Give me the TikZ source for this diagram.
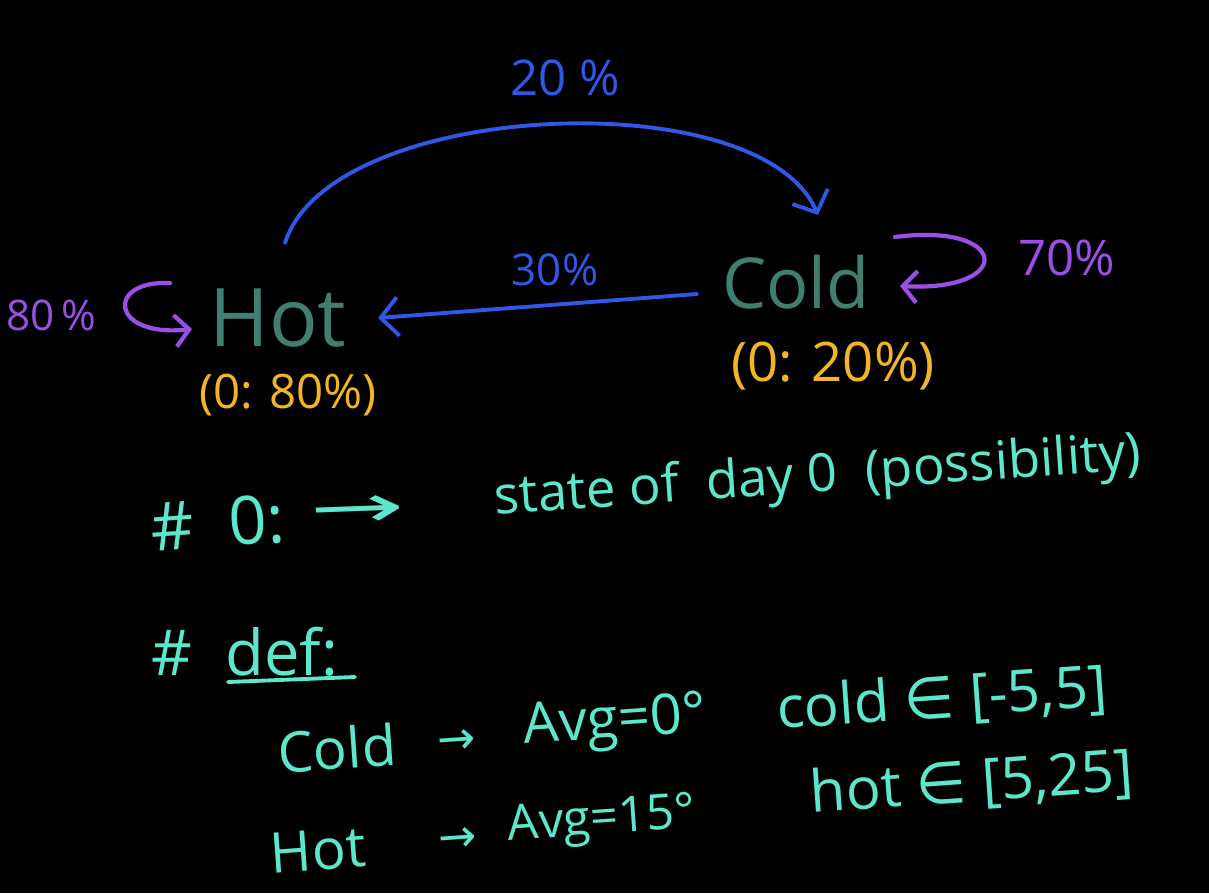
\documentclass[tikz,border=0pt]{standalone}
\usepackage{fontspec}
\setmainfont{Open Sans}
\newfontfamily\symfont{DejaVu Sans}
\usetikzlibrary{arrows.meta}
\definecolor{bgc}{HTML}{000000}
\definecolor{statec}{HTML}{3F7F70}
\definecolor{probc}{HTML}{F2B523}
\definecolor{loopc}{HTML}{9A4FE6}
\definecolor{edgec}{HTML}{2F57E8}
\definecolor{notec}{HTML}{5CE6CC}
\tikzset{
  statetxt/.style={text=statec, font=\fontsize{46}{50}\selectfont, inner sep=0pt},
  probtxt/.style={text=probc, font=\fontsize{27}{30}\selectfont, inner sep=0pt},
  looptxt/.style={text=loopc, font=\fontsize{26}{30}\selectfont, inner sep=0pt},
  edgetxt/.style={text=edgec, font=\fontsize{26}{30}\selectfont, inner sep=0pt},
  notetxt/.style={text=notec, font=\fontsize{32}{36}\selectfont, inner sep=0pt},
  edgeline/.style={draw=edgec, line width=2.2pt, line cap=round, -{Straight Barb[length=10pt,width=22pt,line width=2.2pt]}},
  loopline/.style={draw=loopc, line width=2.4pt, line cap=round, -{Straight Barb[length=8pt,width=18pt,line width=2.4pt]}},
}
\begin{document}
\begin{tikzpicture}[x=0.02cm,y=-0.02cm]
\fill[bgc] (0,0) rectangle (1209,893);
\useasboundingbox (0,0) rectangle (1209,893);

% states
\node[statetxt] (hot) at (278,318) {Hot};
\node[statetxt, font=\fontsize{40}{44}\selectfont] (cold) at (796,282) {Cold};
\node[probtxt] (hotp) at (288,395) {(0: 80\%)};
\node[probtxt, font=\fontsize{31}{34}\selectfont] (coldp) at (833,366) {(0: 20\%)};

% transitions
\coordinate (a1) at (285,243);
\coordinate (a2) at (818,215);
\draw[edgeline] (a1) .. controls (330,100) and (760,80) .. (a2);
\node[edgetxt, font=\fontsize{28}{30}\selectfont] (l20) at (565,78) {20 \%};

\coordinate (b1) at (697,294);
\coordinate (b2) at (378,318);
\draw[edgeline] (b1) -- (b2);
\node[edgetxt, font=\fontsize{25}{28}\selectfont] (l30) at (555,270) {30\%};

% self loops
\coordinate (c1) at (170,283);
\coordinate (c2) at (192,329);
\draw[loopline] (c1) .. controls (105,280) and (110,338) .. (c2);
\node[looptxt, font=\fontsize{24}{26}\selectfont] (l80) at (51,315) {80\,\%};

\coordinate (d1) at (895,237);
\coordinate (d2) at (900,286);
\draw[loopline] (d1) .. controls (1010,222) and (1015,292) .. (d2);
\node[looptxt, font=\fontsize{28}{30}\selectfont] (l70) at (1067,258) {70\%};

% notes
\node[notetxt, font=\fontsize{38}{40}\selectfont, rotate=4] (n0) at (218,523) {\#\ \ 0:};
\node[notetxt, font=\fontsize{34}{40}\symfont, xscale=1.9, rotate=4] (n0a) at (358,512) {→};
\node[notetxt, font=\fontsize{30}{34}\selectfont, rotate=4] (n0b) at (818,478) {state of \ day 0 \ (possibility)};

\node[notetxt, font=\fontsize{36}{40}\selectfont] (def) at (245,652) {\# \ def:};
\coordinate (u1) at (228,682);
\coordinate (u2) at (355,677);
\draw[notec, line width=2.2pt, line cap=round] (u1) -- (u2);

\node[notetxt, rotate=4] (c_a) at (337,748) {Cold};
\node[notetxt, font=\fontsize{26}{30}\symfont, rotate=4] (c_b) at (457,742) {→};
\node[notetxt, rotate=4] (c_c) at (615,724) {Avg=0°};
\node[notetxt, font=\fontsize{33}{36}\selectfont, rotate=4] (c_d) at (942,700) {cold {\symfont ∈} [-5,5]};

\node[notetxt, rotate=4] (h_a) at (318,850) {Hot};
\node[notetxt, font=\fontsize{26}{30}\symfont, rotate=4] (h_b) at (458,840) {→};
\node[notetxt, font=\fontsize{28}{32}\selectfont, rotate=4] (h_c) at (602,822) {Avg=15°};
\node[notetxt, font=\fontsize{33}{36}\selectfont, rotate=4] (h_d) at (972,784) {hot {\symfont ∈} [5,25]};
\end{tikzpicture}
\end{document}
